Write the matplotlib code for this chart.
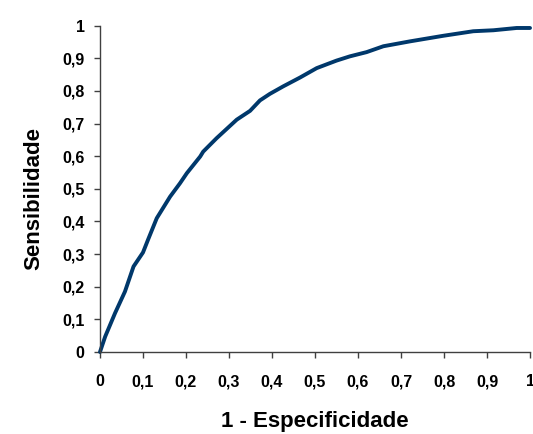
import numpy as np
import matplotlib.pyplot as plt

fpr = [0, 0.012, 0.035, 0.058, 0.078, 0.1, 0.112, 0.132, 0.163, 0.186, 0.202,
       0.233, 0.24, 0.271, 0.318, 0.349, 0.372, 0.395, 0.426, 0.465, 0.504,
       0.55, 0.581, 0.62, 0.659, 0.721, 0.798, 0.868, 0.915, 0.969, 1.0]
tpr = [0, 0.047, 0.119, 0.185, 0.262, 0.305, 0.345, 0.41, 0.476, 0.517, 0.548,
       0.599, 0.614, 0.655, 0.712, 0.739, 0.771, 0.791, 0.814, 0.841, 0.87,
       0.893, 0.906, 0.919, 0.937, 0.952, 0.969, 0.983, 0.986, 0.993, 0.993]

ticks = [i / 10 for i in range(11)]
tick_labels = ["0", "0,1", "0,2", "0,3", "0,4", "0,5", "0,6", "0,7", "0,8", "0,9", "1"]

plt.rcParams['font.family'] = ['Liberation Sans', 'DejaVu Sans']

fig = plt.figure(figsize=(5.33, 4.34), dpi=100)
ax = fig.add_axes([0.1876, 0.189, 0.8068, 0.7518])

ax.plot(fpr, tpr, color="#00386b", lw=2.8, clip_on=False, solid_capstyle="round")

ax.set_xlim(0, 1)
ax.set_ylim(0, 1)
ax.set_xticks(ticks)
ax.set_yticks(ticks)
ax.set_xticklabels(tick_labels, fontsize=11.5, fontweight="bold")
ax.set_yticklabels(tick_labels, fontsize=11.5, fontweight="bold")
ax.tick_params(direction="out", length=4, width=1, color="#404040")
ax.tick_params(axis="x", pad=12)
ax.tick_params(axis="y", pad=7)

for s in ["top", "right"]:
    ax.spines[s].set_visible(False)
for s in ["left", "bottom"]:
    ax.spines[s].set_color("#404040")
    ax.spines[s].set_linewidth(1)

ax.set_xlabel("1 - Especificidade", fontsize=16, fontweight="bold")
ax.set_ylabel("Sensibilidade", fontsize=16, fontweight="bold")
ax.xaxis.set_label_coords(0.5, -0.18)
ax.yaxis.set_label_coords(-0.13, 0.47)

fig.savefig("out.png", dpi=100)
